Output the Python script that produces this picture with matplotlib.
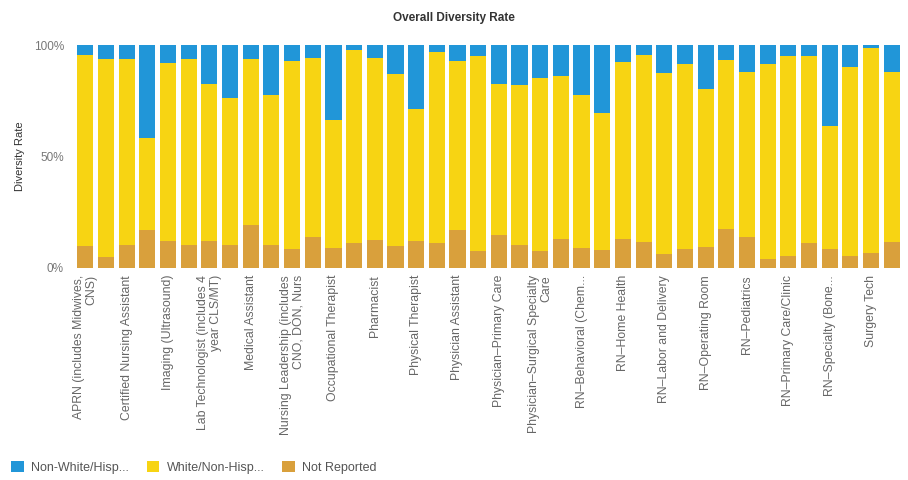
import matplotlib.pyplot as plt
import numpy as np

# Etiquetas visibles (una de cada dos barras)
labels = ["APRN (includes Midwives,\nCNS)", "Certified Nursing Assistant", "Imaging (Ultrasound)",
          "Lab Technologist (includes 4\nyear CLS/MT)", "Medical Assistant",
          "Nursing Leadership (includes\nCNO, DON, Nurs", "Occupational Therapist", "Pharmacist",
          "Physical Therapist", "Physician Assistant", "Physician–Primary Care",
          "Physician–Surgical Specialty\nCare", "RN–Behavioral (Chem...", "RN–Home Health",
          "RN–Labor and Delivery", "RN–Operating Room", "RN–Pediatrics", "RN–Primary Care/Clinic",
          "RN–Specialty (Bone...", "Surgery Tech"]

# Porcentajes por barra (40 barras)
non_white = [4.5, 6.3, 6.3, 41.5, 8.1, 6.3, 17.6, 23.9, 6.3, 22.4,
             7.2, 5.7, 33.6, 2.4, 5.7, 13.1, 28.7, 3.3, 7.2, 4.8,
             17.6, 17.9, 14.9, 13.7, 22.6, 30.5, 7.6, 4.6, 12.4, 8.3,
             19.8, 6.7, 12.1, 8.5, 4.9, 4.8, 36.3, 10.0, 1.5, 12.2]
not_reported = [9.7, 4.8, 10.4, 16.9, 11.9, 10.1, 12.2, 10.1, 19.4, 10.1,
                8.4, 13.7, 9.0, 11.4, 12.4, 9.9, 12.0, 11.3, 16.9, 7.5,
                14.6, 10.1, 7.5, 13.1, 9.1, 8.2, 12.8, 11.8, 6.3, 8.5,
                9.5, 17.7, 14.1, 4.2, 5.5, 11.2, 8.5, 5.4, 6.8, 11.8]
white = [85.8, 88.9, 83.3, 41.6, 80.0, 83.6, 70.2, 66.0, 74.3, 67.5,
         84.4, 80.6, 57.4, 86.2, 81.9, 77.0, 59.3, 85.4, 75.9, 87.7,
         67.8, 72.0, 77.6, 73.2, 68.3, 61.3, 79.6, 83.6, 81.3, 83.2,
         70.7, 75.6, 73.8, 87.3, 89.6, 84.0, 55.2, 84.6, 91.7, 76.0]

plt.rcParams['font.family'] = ['Liberation Sans', 'DejaVu Sans']

blue = "#2196d8"
yellow = "#f7d413"
orange = "#d9a03c"

fig = plt.figure(figsize=(9.08, 4.8), dpi=100)
ax = fig.add_axes([0.0826, 0.4417, 0.9108, 0.4643])

x = np.arange(len(white))
nr = np.array(not_reported) / 100
wh = np.array(white) / 100
nw = np.array(non_white) / 100

ax.bar(x, nr, width=0.78, color=orange, label="Not Reported")
ax.bar(x, wh, width=0.78, bottom=nr, color=yellow, label="White/Non-Hisp...")
ax.bar(x, nw, width=0.78, bottom=nr + wh, color=blue, label="Non-White/Hisp...")

ax.set_xlim(-0.5, len(white) - 0.5)
ax.set_ylim(0, 1)
ax.set_yticks([0, 0.5, 1])
ax.set_yticklabels(["0%", "50%", "100%"], color="#777777", fontsize=8.5)
ax.set_xticks(x[::2])
ax.set_xticklabels(labels, rotation=90, fontsize=8.8, color="#666666",
                   ha="center", va="top", multialignment="right", linespacing=1.05)
ax.tick_params(length=0, axis="x", pad=5)
ax.tick_params(length=0, axis="y", pad=8)
for s in ax.spines.values():
    s.set_visible(False)

ax.set_ylabel("Diversity Rate", fontsize=8, color="#333333", labelpad=6)
fig.text(0.5, 0.962, "Overall Diversity Rate", ha="center", va="center",
         fontsize=8.5, fontweight="bold", color="#333333")

# Leyenda en el orden de la referencia
h, l = ax.get_legend_handles_labels()
fig.legend(h[::-1], l[::-1], loc="lower left", bbox_to_anchor=(0.0, -0.01), ncol=3,
           frameon=False, fontsize=9, handlelength=1.0, handleheight=1.0,
           handletextpad=0.6, columnspacing=1.4, labelcolor="#555555")

fig.savefig("out.png", dpi=100)
